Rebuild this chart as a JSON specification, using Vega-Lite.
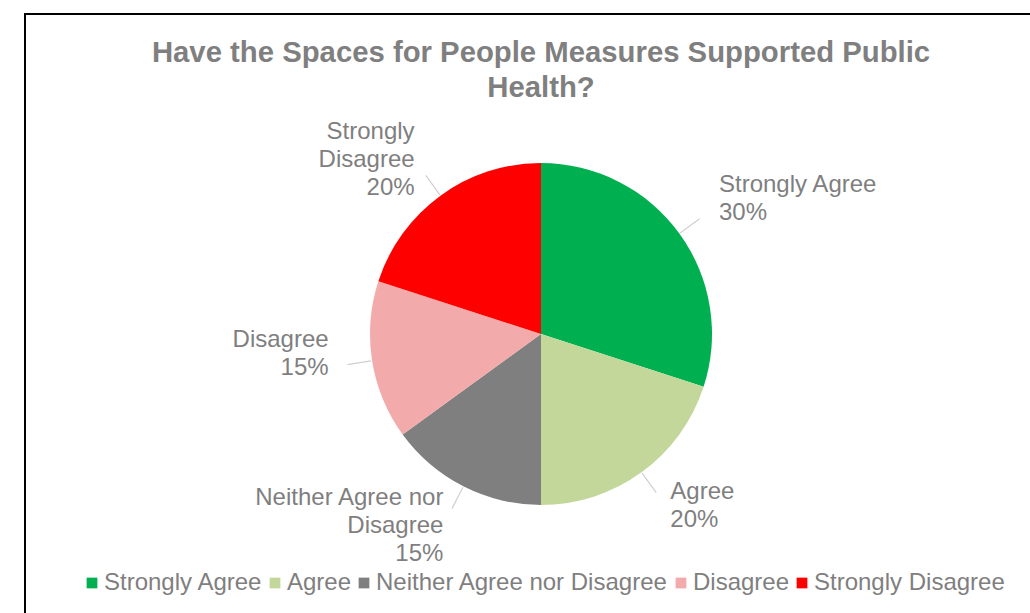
{
  "$schema": "https://vega.github.io/schema/vega-lite/v6.json",
  "width": 1032,
  "height": 640,
  "autosize": {"type": "none"},
  "padding": {"left": 25, "top": 14, "right": -27, "bottom": -41},
  "background": "white",
  "view": {"stroke": "#000000", "strokeWidth": 2, "fill": "white"},
  "config": {
    "font": "Liberation Sans"
  },
  "title": {
    "text": ["Have the Spaces for People Measures Supported Public", "Health?"],
    "font": "Liberation Sans",
    "fontSize": 29.3,
    "fontWeight": "bold",
    "color": "#7F7F7F",
    "anchor": "middle",
    "baseline": "top",
    "lineHeight": 35,
    "offset": -89
  },
  "data": {
    "values": [
      {"category": "Strongly Agree", "value": 30, "rank": 1, "label": "Strongly Agree\n30%"},
      {"category": "Agree", "value": 20, "rank": 2, "label": "Agree\n20%"},
      {"category": "Neither Agree nor Disagree", "value": 15, "rank": 3, "label": "Neither Agree nor\nDisagree\n15%"},
      {"category": "Disagree", "value": 15, "rank": 4, "label": "Disagree\n15%"},
      {"category": "Strongly Disagree", "value": 20, "rank": 5, "label": "Strongly\nDisagree\n20%"}
    ]
  },
  "encoding": {
    "theta": {"field": "value", "type": "quantitative", "stack": true},
    "order": {"field": "rank", "type": "quantitative"}
  },
  "layer": [
    {
      "mark": {"type": "arc", "radius": 171},
      "encoding": {
        "color": {
          "field": "category",
          "type": "nominal",
          "scale": {
            "domain": ["Strongly Agree", "Agree", "Neither Agree nor Disagree", "Disagree", "Strongly Disagree"],
            "range": ["#00B050", "#C4D79B", "#7F7F7F", "#F2AAAA", "#FF0000"]
          },
          "legend": {
            "orient": "none",
            "direction": "horizontal",
            "legendX": 55,
            "legendY": 557,
            "title": null,
            "symbolType": "square",
            "symbolSize": 115,
            "symbolStrokeWidth": 0,
            "labelFont": "Liberation Sans",
            "labelFontSize": 24,
            "labelColor": "#7F7F7F",
            "labelLimit": 400,
            "labelOffset": 0,
            "columnPadding": 0,
            "padding": 0
          }
        }
      }
    },
    {
      "mark": {"type": "arc", "radius": 172, "radius2": 196, "padAngle": 3, "filled": false, "stroke": "#D0D0D0", "strokeWidth": 1.2},
      "encoding": {}
    },
    {
      "mark": {"type": "text", "radius": 220, "dy": -20, "align": "left", "baseline": "middle", "lineBreak": "\n", "lineHeight": 28, "fontSize": 24, "font": "Liberation Sans", "color": "#7F7F7F"},
      "encoding": {
        "text": {"condition": {"test": "datum.rank <= 2", "field": "label"}, "value": ""}
      }
    },
    {
      "mark": {"type": "text", "radius": 215, "dy": -28, "align": "right", "baseline": "middle", "lineBreak": "\n", "lineHeight": 28, "fontSize": 24, "font": "Liberation Sans", "color": "#7F7F7F"},
      "encoding": {
        "text": {"condition": {"test": "datum.rank > 2", "field": "label"}, "value": ""}
      }
    }
  ]
}
